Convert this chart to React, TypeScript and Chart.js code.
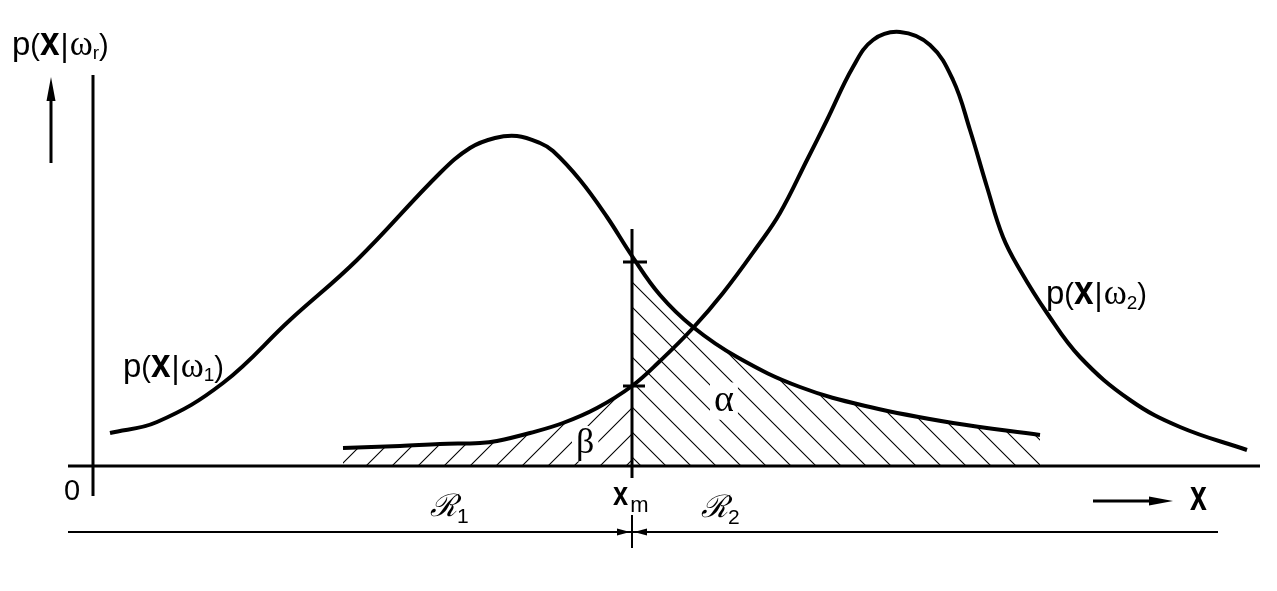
import React, { useEffect, useRef } from 'react';
import { Chart, registerables } from 'chart.js';

Chart.register(...registerables);

// ---- data (x in chart units, y = density) ----
const curve1X = [0.17, 0.64, 1.30, 1.97, 2.64, 3.47, 3.77, 4.02, 4.24, 4.47, 4.60, 4.87, 5.14, 5.39, 5.67, 6.00, 6.44, 7.07, 7.77, 8.60, 9.47];
const curve1Y = [0.33, 0.44, 0.83, 1.46, 2.06, 2.93, 3.18, 3.28, 3.30, 3.23, 3.15, 2.86, 2.49, 2.10, 1.71, 1.39, 1.09, 0.79, 0.59, 0.43, 0.31];

const curve2X = [2.50, 3.07, 3.47, 3.87, 4.04, 4.37, 4.70, 5.04, 5.39, 5.67, 6.00, 6.30, 6.64, 6.87, 7.14, 7.34, 7.60, 7.80, 8.07, 8.37, 8.60, 8.77, 8.94, 9.10, 9.27, 9.54, 9.87, 10.37, 10.87, 11.54];
const curve2Y = [0.18, 0.20, 0.22, 0.23, 0.25, 0.33, 0.43, 0.58, 0.80, 1.05, 1.38, 1.73, 2.19, 2.53, 3.06, 3.46, 3.99, 4.26, 4.34, 4.21, 3.86, 3.36, 2.79, 2.29, 1.96, 1.53, 1.09, 0.66, 0.39, 0.16];

// decision threshold x_m
const XM = 5.39;

// view range
const X_MIN = -0.93;
const X_MAX = 11.84;
const Y_MIN = -1.25;
const Y_MAX = 4.66;

type Run = { t: string; font: string; dy?: number; sx?: number; gap?: number };

function drawRuns(ctx: CanvasRenderingContext2D, runs: Run[], x: number, y: number) {
  let cx = x;
  for (const r of runs) {
    ctx.font = r.font;
    const sx = r.sx ?? 1;
    ctx.save();
    ctx.translate(cx, y + (r.dy ?? 0));
    ctx.scale(sx, 1);
    ctx.fillText(r.t, 0, 0);
    ctx.restore();
    cx += ctx.measureText(r.t).width * sx + (r.gap ?? 0);
  }
  return cx;
}

const SANS = '"Liberation Sans", Arial, sans-serif';
const SERIF = '"Liberation Serif", "Times New Roman", serif';

function densityLabel(sub: string, subDy: number): Run[] {
  return [
    { t: 'p', font: `33px ${SANS}` },
    { t: '(', font: `29px ${SANS}` },
    { t: 'x', font: `bold 40px ${SANS}`, sx: 0.88, gap: 1 },
    { t: '|', font: `31px ${SANS}`, dy: 1, gap: 1 },
    { t: 'ω', font: `35px ${SERIF}` },
    { t: sub, font: `19px ${SANS}`, dy: subDy },
    { t: ')', font: `29px ${SANS}` },
  ];
}

function makeHatch(size: number, back: boolean): CanvasPattern | string {
  const c = document.createElement('canvas');
  c.width = size;
  c.height = size;
  const g = c.getContext('2d');
  if (!g) return 'rgba(0,0,0,0.2)';
  g.strokeStyle = '#000';
  g.lineWidth = 1.1;
  g.beginPath();
  if (back) {
    g.moveTo(-2, -2); g.lineTo(size + 2, size + 2);
    g.moveTo(-2, size - 2); g.lineTo(2, size + 2);
    g.moveTo(size - 2, -2); g.lineTo(size + 2, 2);
  } else {
    g.moveTo(-2, size + 2); g.lineTo(size + 2, -2);
    g.moveTo(-2, 2); g.lineTo(2, -2);
    g.moveTo(size - 2, size + 2); g.lineTo(size + 2, size - 2);
  }
  g.stroke();
  const p = g.createPattern(c, 'repeat');
  return p ?? 'rgba(0,0,0,0.2)';
}

function arrowHead(ctx: CanvasRenderingContext2D, tipX: number, tipY: number, dx: number, dy: number, len: number, half: number) {
  const bx = tipX - dx * len;
  const by = tipY - dy * len;
  const nx = -dy;
  const ny = dx;
  ctx.beginPath();
  ctx.moveTo(tipX, tipY);
  ctx.lineTo(bx + nx * half, by + ny * half);
  ctx.lineTo(bx - nx * half, by - ny * half);
  ctx.closePath();
  ctx.fill();
}

const decorPlugin = {
  id: 'decor',
  afterDraw(chart: any) {
    const ctx: CanvasRenderingContext2D = chart.ctx;
    const X = (v: number) => chart.scales.x.getPixelForValue(v);
    const Y = (v: number) => chart.scales.y.getPixelForValue(v);
    const i1 = curve1X.indexOf(XM);
    const i2 = curve2X.indexOf(XM);
    const c1m = curve1Y[i1];
    const c2m = curve2Y[i2];
    ctx.save();
    ctx.strokeStyle = '#000';
    ctx.fillStyle = '#000';
    ctx.lineCap = 'butt';

    const line = (x1: number, y1: number, x2: number, y2: number, w: number) => {
      ctx.lineWidth = w;
      ctx.beginPath();
      ctx.moveTo(x1, y1);
      ctx.lineTo(x2, y2);
      ctx.stroke();
    };

    // axes
    line(X(0), Y(3.91), X(0), Y(-0.30), 3);
    line(X(-0.25), Y(0), X(11.67), Y(0), 3);

    // x_m line
    const xm = X(XM);
    line(xm, Y(2.37), xm, Y(-0.12), 3);
    line(xm, Y(-0.49), xm, Y(-0.82), 2);
    // ticks where curves cross x_m
    line(xm - 9, Y(c1m) + 6, xm + 15, Y(c1m) + 6, 3);
    line(xm - 9, Y(c2m), xm + 13, Y(c2m), 3);

    // region line with arrows
    const ry = Y(-0.66);
    line(X(-0.25), ry, X(11.25), ry, 2);
    arrowHead(ctx, xm - 2, ry, 1, 0, 13, 3.5);
    arrowHead(ctx, xm + 2, ry, -1, 0, 13, 3.5);

    // up arrow (density axis direction)
    const ux = X(-0.42);
    line(ux, Y(3.03), ux, Y(3.75), 3);
    arrowHead(ctx, ux, Y(3.89), 0, -1, 24, 4.5);

    // right arrow (x direction)
    const ay = Y(-0.35);
    line(X(10.0), ay, X(10.6), ay, 3);
    arrowHead(ctx, X(10.80), ay, 1, 0, 24, 4.5);

    // ---- labels ----
    ctx.textBaseline = 'alphabetic';
    ctx.textAlign = 'left';

    drawRuns(ctx, densityLabel('r', 4), X(-0.81), Y(4.11));
    drawRuns(ctx, densityLabel('1', 4), X(0.30), Y(0.89));
    drawRuns(ctx, densityLabel('2', 5), X(9.53), Y(1.62));

    // origin
    ctx.font = `29px ${SANS}`;
    ctx.fillText('0', X(-0.29), Y(-0.34));

    // x_m
    drawRuns(ctx, [
      { t: 'x', font: `bold 34px ${SANS}`, sx: 0.8, gap: 2 },
      { t: 'm', font: `22px ${SANS}`, dy: 7 },
    ], X(5.20), Y(-0.39));

    // axis label x
    drawRuns(ctx, [{ t: 'x', font: `bold 42px ${SANS}`, sx: 0.72 }], X(10.97), Y(-0.44));

    // alpha / beta with white backing
    const greek = (t: string, x: number, y: number, size: number) => {
      ctx.font = `${size}px ${SERIF}`;
      const w = ctx.measureText(t).width;
      ctx.fillStyle = '#fff';
      ctx.fillRect(x - 4, y - size * 0.75, w + 8, size * 0.98);
      ctx.fillStyle = '#000';
      ctx.fillText(t, x, y);
    };
    greek('α', X(6.21), Y(0.55), 38);
    greek('β', X(4.83), Y(0.13), 36);

    // region labels
    drawRuns(ctx, [
      { t: 'ℛ', font: `italic 31px "DejaVu Serif", serif` },
      { t: '1', font: `21px ${SANS}`, dy: 7 },
    ], X(3.37), Y(-0.50));
    drawRuns(ctx, [
      { t: 'ℛ', font: `italic 31px "DejaVu Serif", serif` },
      { t: '2', font: `21px ${SANS}`, dy: 7 },
    ], X(6.08), Y(-0.51));

    ctx.restore();
  },
};

export default function App() {
  const ref = useRef<HTMLCanvasElement>(null);
  useEffect(() => {
    const canvas = ref.current;
    if (!canvas) return;
    const c1 = curve1X.map((x, i) => ({ x, y: curve1Y[i] }));
    const c2 = curve2X.map((x, i) => ({ x, y: curve2Y[i] }));
    const alphaPts = c1.filter((p) => p.x >= XM);
    const betaPts = c2.filter((p) => p.x <= XM);
    const TENSION = 0.4;

    const chart = new Chart(canvas, {
      type: 'line',
      data: {
        datasets: [
          {
            label: 'p(x|ω1)',
            data: c1,
            borderColor: '#000',
            borderWidth: 4,
            pointRadius: 0,
            fill: false,
            tension: TENSION,
            order: 1,
          },
          {
            label: 'p(x|ω2)',
            data: c2,
            borderColor: '#000',
            borderWidth: 4,
            pointRadius: 0,
            fill: false,
            tension: TENSION,
            order: 1,
          },
          {
            label: 'α',
            data: alphaPts,
            borderWidth: 0,
            borderColor: 'rgba(0,0,0,0)',
            pointRadius: 0,
            fill: 'origin',
            backgroundColor: makeHatch(25, true) as any,
            tension: TENSION,
            order: 2,
          },
          {
            label: 'β',
            data: betaPts,
            borderWidth: 0,
            borderColor: 'rgba(0,0,0,0)',
            pointRadius: 0,
            fill: 'origin',
            backgroundColor: makeHatch(26, false) as any,
            tension: TENSION,
            order: 2,
          },
        ],
      },
      options: {
        animation: false,
        responsive: false,
        devicePixelRatio: 1,
        events: [],
        layout: { padding: 0 },
        plugins: { legend: { display: false }, tooltip: { enabled: false } },
        scales: {
          x: { type: 'linear', min: X_MIN, max: X_MAX, display: false },
          y: { type: 'linear', min: Y_MIN, max: Y_MAX, display: false },
        },
      },
      plugins: [decorPlugin],
    });
    return () => chart.destroy();
  }, []);

  return (
    <div style={{ position: 'fixed', left: 0, top: 0, width: 1277, height: 591, background: '#fff' }}>
      <canvas ref={ref} width={1277} height={591} style={{ display: 'block' }} />
    </div>
  );
}
